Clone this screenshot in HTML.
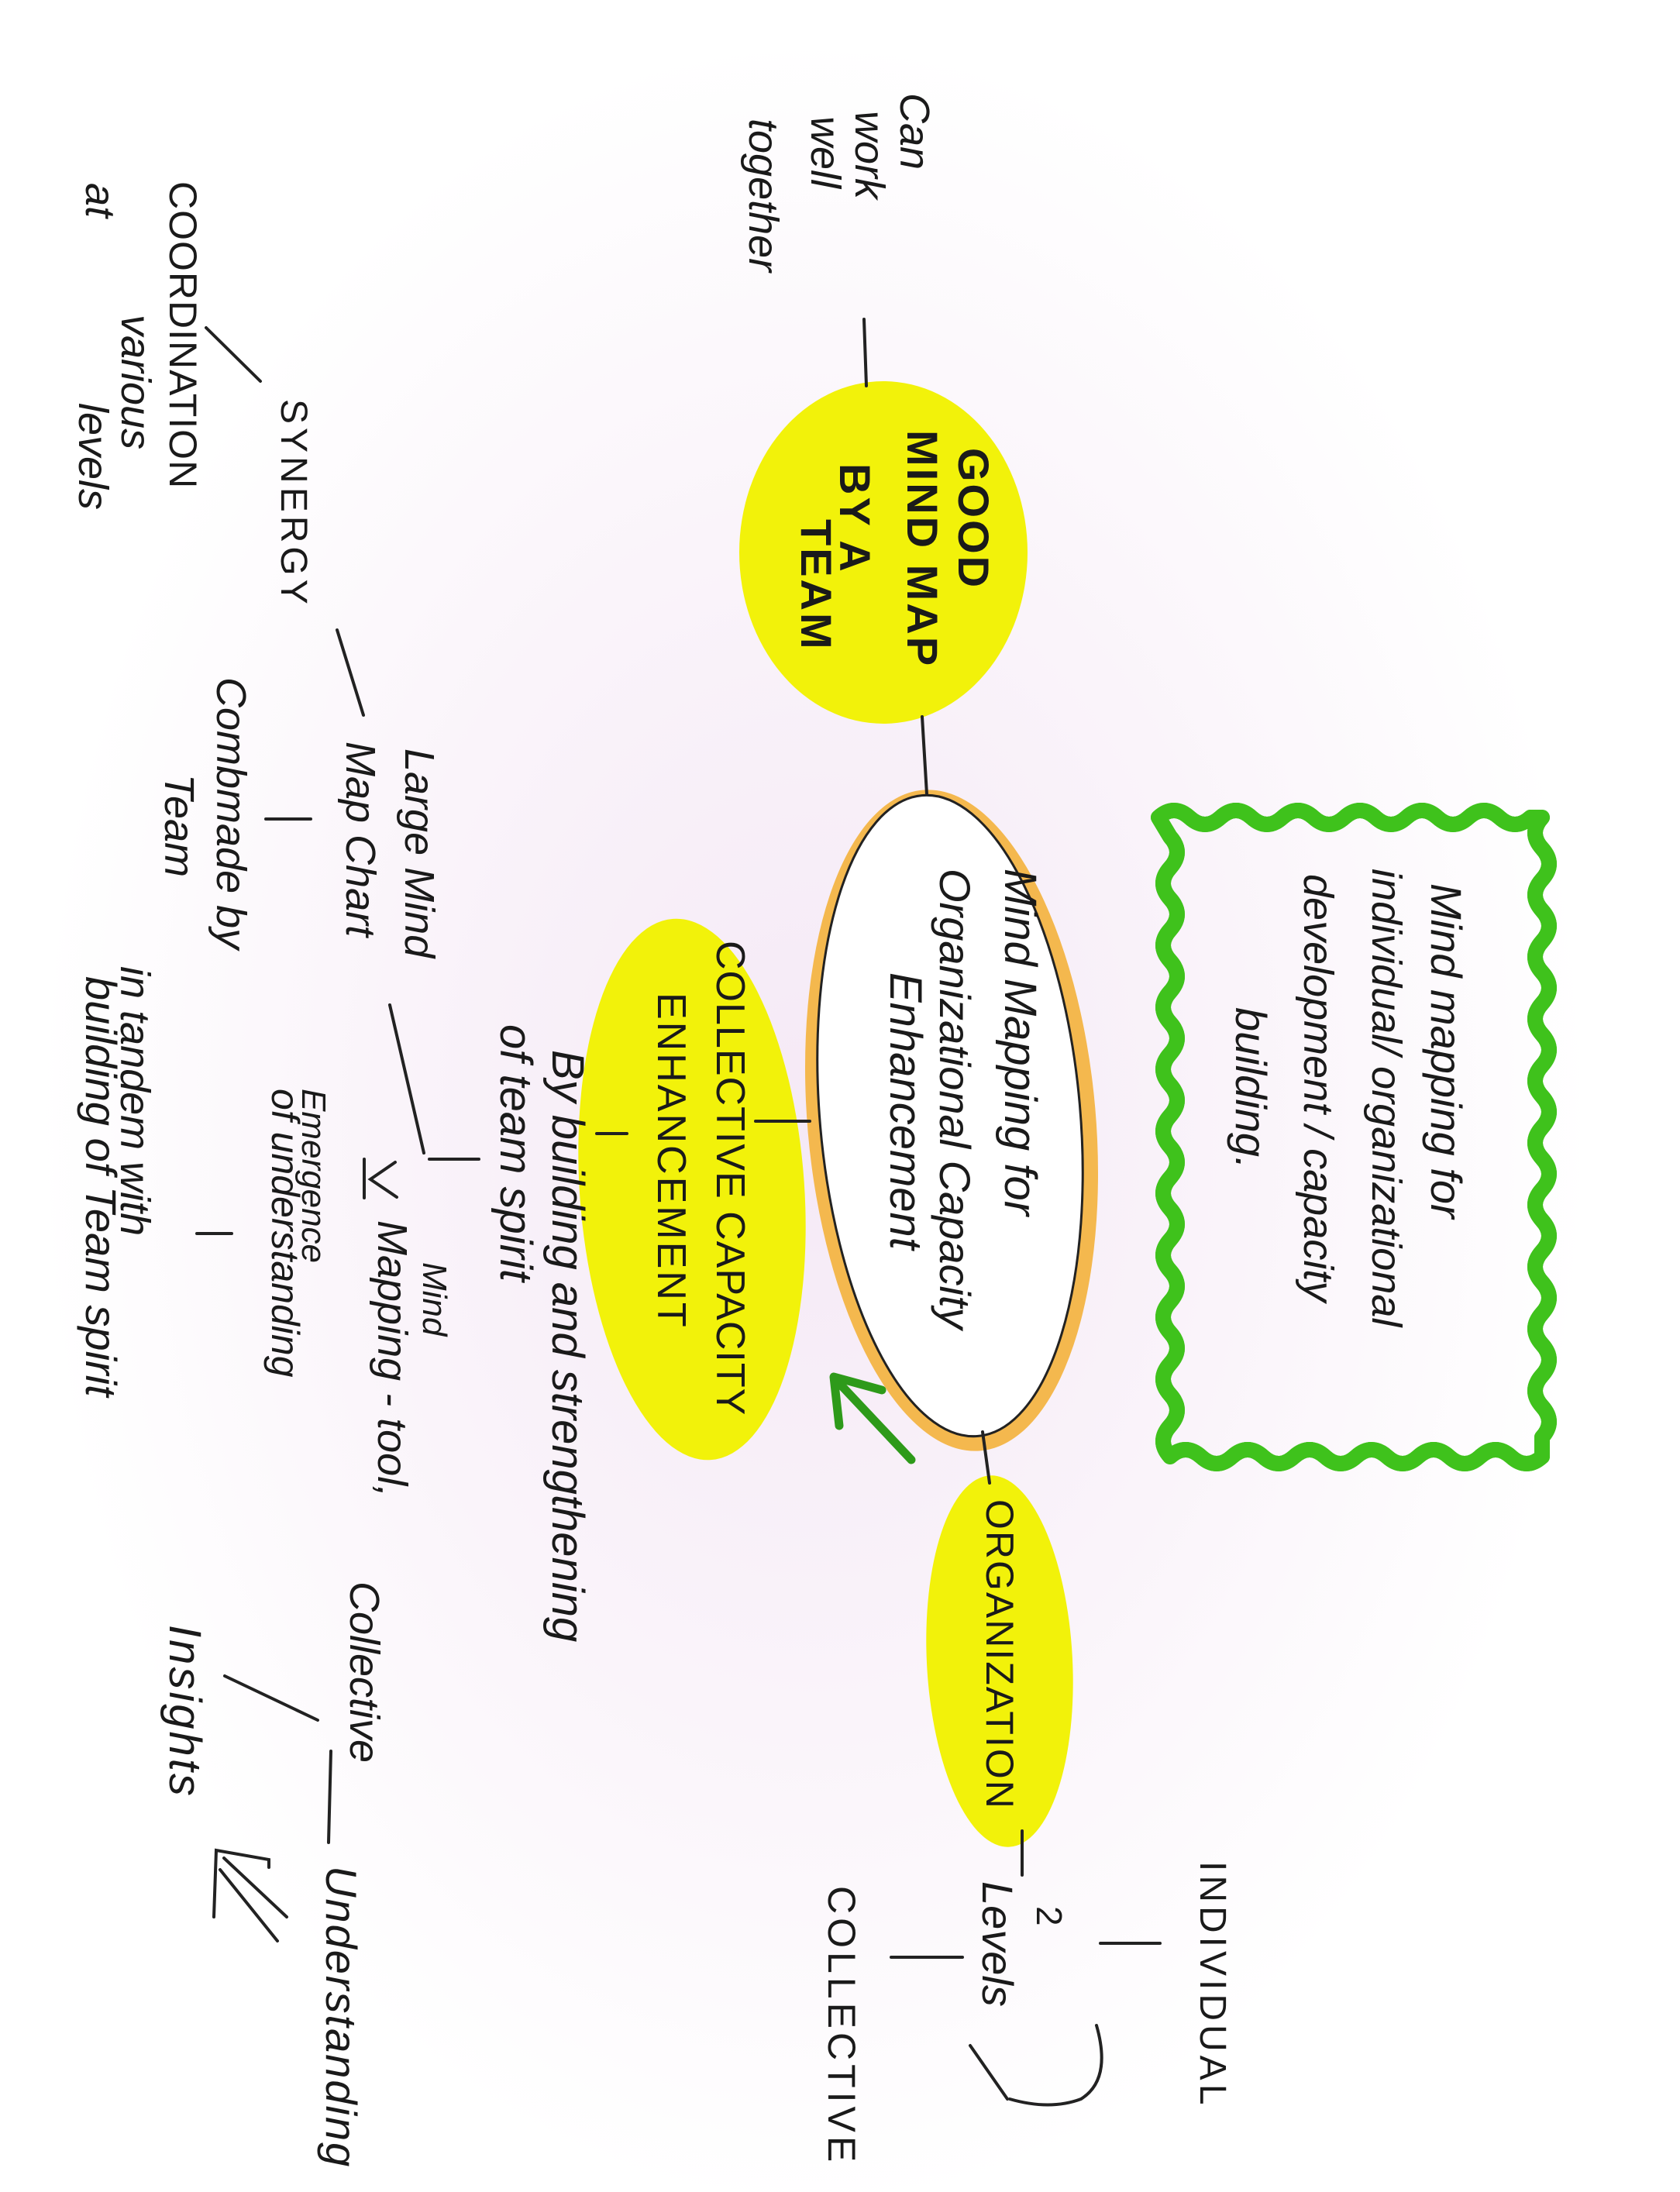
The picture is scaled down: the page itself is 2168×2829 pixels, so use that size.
<!DOCTYPE html>
<html><head><meta charset="utf-8">
<style>
html,body{margin:0;padding:0}
body{width:2168px;height:2829px;position:relative;overflow:hidden;
background:radial-gradient(ellipse 1000px 1400px at 1050px 1450px,#f5e9f6 0%,#faf4fa 55%,#ffffff 100%);
font-family:"Liberation Sans",sans-serif;color:#1a1a1a}
.l{position:absolute;writing-mode:vertical-rl;width:64px;line-height:64px;font-size:54px;white-space:nowrap;font-style:italic}
.u{font-style:normal;letter-spacing:3px}
svg{position:absolute;left:0;top:0}
</style></head><body>
<svg width="2168" height="2829">
 <ellipse cx="1140" cy="713" rx="186" ry="221" fill="#f2f20a"/>
 <ellipse cx="893" cy="1535" rx="145" ry="350" fill="#f2f20a" transform="rotate(-4 893 1535)"/>
 <ellipse cx="1290" cy="2144" rx="94" ry="240" fill="#f2f20a" transform="rotate(-3 1290 2144)"/>
 <ellipse cx="1228" cy="1446" rx="186" ry="428" fill="#f4b84e" transform="rotate(-5 1228 1446)"/>
 <ellipse cx="1226" cy="1440" rx="168" ry="415" fill="#fff" stroke="#222" stroke-width="3" transform="rotate(-5 1226 1440)"/>
 <g fill="none" stroke-linejoin="round">
 <path id="wb" d="M1495 1055 q20 -18 40 0 t40 0 t40 0 t40 0 t40 0 t40 0 t40 0 t40 0 t40 0 t40 0 t40 0 t40 0 L1990 1055 q-18 20 0 40 t0 40 t0 40 t0 40 t0 40 t0 40 t0 40 t0 40 t0 40 t0 40 t0 40 t0 40 t0 40 t0 40 t0 40 t0 40 t0 40 t0 40 t0 40 t0 40 L1990 1880 q-20 18 -40 0 t-40 0 t-40 0 t-40 0 t-40 0 t-40 0 t-40 0 t-40 0 t-40 0 t-40 0 t-40 0 t-40 0 L1510 1880 q-18 -20 0 -40 t0 -40 t0 -40 t0 -40 t0 -40 t0 -40 t0 -40 t0 -40 t0 -40 t0 -40 t0 -40 t0 -40 t0 -40 t0 -40 t0 -40 t0 -40 t0 -40 t0 -40 t0 -40 t0 -40 Z" stroke="#3fc21c" stroke-width="20"/>
 <use href="#wb" stroke="#222" stroke-width="3"/>
 </g>
 <g stroke="#222" stroke-width="4" fill="none" stroke-linecap="round">
  <line x1="1115" y1="412" x2="1118" y2="498"/>
  <line x1="1190" y1="925" x2="1196" y2="1025"/>
  <line x1="975" y1="1447" x2="1045" y2="1447"/>
  <line x1="1268" y1="1848" x2="1277" y2="1914"/>
  <line x1="1319" y1="2363" x2="1319" y2="2420"/>
  <line x1="266" y1="423" x2="336" y2="492"/>
  <line x1="435" y1="813" x2="469" y2="923"/>
  <line x1="343" y1="1057" x2="401" y2="1057"/>
  <line x1="503" y1="1297" x2="547" y2="1488"/>
  <line x1="554" y1="1496" x2="618" y2="1496"/>
  <line x1="770" y1="1463" x2="809" y2="1463"/>
  <line x1="254" y1="1592" x2="299" y2="1592"/>
  <path d="M470 1496 L470 1546 M510 1500 L478 1522 L512 1545"/>
  <line x1="290" y1="2163" x2="410" y2="2220"/>
  <line x1="427" y1="2260" x2="424" y2="2378"/>
  <line x1="289" y1="2398" x2="370" y2="2474"/>
  <line x1="284" y1="2413" x2="358" y2="2505"/>
  <path d="M276 2474 L279 2388 L347 2400 L347 2410"/>
  <line x1="1420" y1="2508" x2="1497" y2="2508"/>
  <line x1="1150" y1="2526" x2="1242" y2="2526"/>
  <path d="M1415 2614 q20 70 -20 95 q-40 15 -92 0"/>
  <path d="M1252 2640 L1300 2709"/>
 </g>
 <g stroke="#2e9a1a" stroke-width="11" fill="none" stroke-linecap="round" stroke-linejoin="round">
  <path d="M1176 1884 L1080 1782"/>
  <path d="M1083 1840 L1076 1777 L1138 1794"/>
 </g>
</svg>

<div class="l" style="left:1148px;top:120px">Can</div>
<div class="l" style="left:1090px;top:143px">work</div>
<div class="l" style="left:1033px;top:150px">well</div>
<div class="l" style="left:953px;top:153px">together</div>

<div class="l u" style="left:346px;top:515px;font-size:48px;letter-spacing:5px">SYNERGY</div>
<div class="l u" style="left:204px;top:234px;font-size:50px;letter-spacing:1px">COORDINATION</div>
<div class="l" style="left:97px;top:236px">at</div>
<div class="l" style="left:143px;top:406px">various</div>
<div class="l" style="left:88px;top:520px">levels</div>

<div class="l u" style="left:1224px;top:578px;font-size:56px;font-weight:bold">GOOD</div>
<div class="l u" style="left:1158px;top:555px;font-size:56px;font-weight:bold">MIND MAP</div>
<div class="l u" style="left:1071px;top:598px;font-size:56px;font-weight:bold">BY A</div>
<div class="l u" style="left:1021px;top:670px;font-size:56px;font-weight:bold">TEAM</div>

<div class="l" style="left:266px;top:874px">Combmade by</div>
<div class="l" style="left:199px;top:999px">Team</div>
<div class="l" style="left:509px;top:966px">Large Mind</div>
<div class="l" style="left:433px;top:957px">Map Chart</div>

<div class="l" style="left:528px;top:1629px;font-size:44px">Mind</div>
<div class="l" style="left:474px;top:1575px">Mapping - tool,</div>
<div class="l" style="left:372px;top:1405px;font-size:44px">Emergence</div>
<div class="l" style="left:336px;top:1405px;font-size:50px">of understanding</div>
<div class="l" style="left:142px;top:1247px">in tandem with</div>
<div class="l" style="left:98px;top:1260px;font-size:56px">building of Team spirit</div>

<div class="l" style="left:700px;top:1355px;font-size:58px">By building and strengthening</div>
<div class="l" style="left:633px;top:1322px;font-size:58px">of team spirit</div>
<div class="l u" style="left:910px;top:1214px;font-size:52px;letter-spacing:1px">COLLECTIVE CAPACITY</div>
<div class="l u" style="left:834px;top:1281px;font-size:52px;letter-spacing:3px">ENHANCEMENT</div>

<div class="l" style="left:1284px;top:1121px;font-size:58px">Mind Mapping for</div>
<div class="l" style="left:1200px;top:1121px;font-size:56px">Organizational Capacity</div>
<div class="l" style="left:1136px;top:1255px;font-size:58px">Enhancement</div>

<div class="l" style="left:1834px;top:1140px;font-size:56px">Mind mapping for</div>
<div class="l" style="left:1757px;top:1121px;font-size:54px">individual/ organizational</div>
<div class="l" style="left:1669px;top:1128px;font-size:54px">development / capacity</div>
<div class="l" style="left:1582px;top:1300px;font-size:56px">building.</div>

<div class="l u" style="left:1258px;top:1935px;font-size:50px;letter-spacing:2px">ORGANIZATION</div>
<div class="l u" style="left:1532px;top:2402px;font-size:48px;letter-spacing:5px">INDIVIDUAL</div>
<div class="l" style="left:1322px;top:2460px;font-size:46px;font-style:normal">2</div>
<div class="l" style="left:1255px;top:2428px;font-size:56px">Levels</div>
<div class="l u" style="left:1054px;top:2434px;font-size:50px;letter-spacing:5px">COLLECTIVE</div>
<div class="l" style="left:438px;top:2041px">Collective</div>
<div class="l" style="left:408px;top:2408px;font-size:56px;letter-spacing:2px">Understanding</div>
<div class="l" style="left:206px;top:2097px;font-size:58px;letter-spacing:3px">Insights</div>
</body></html>
